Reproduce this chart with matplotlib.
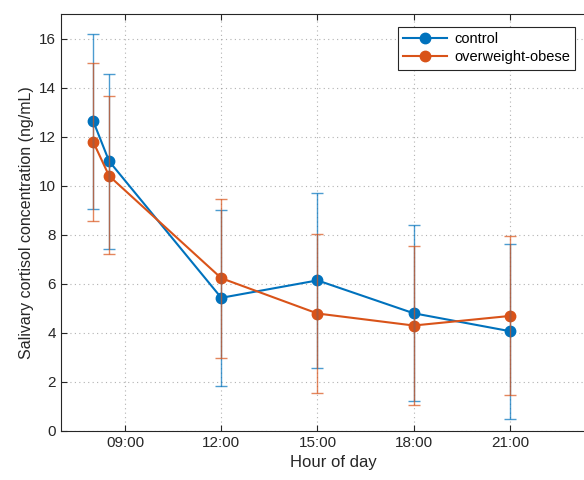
import matplotlib
matplotlib.use("Agg")
import matplotlib.pyplot as plt
import numpy as np

plt.rcParams['font.family'] = ['Liberation Sans', 'DejaVu Sans']

hours = [8.0, 8.5, 12, 15, 18, 21]
tick_hours = [9, 12, 15, 18, 21]
tick_labels = ["09:00", "12:00", "15:00", "18:00", "21:00"]

control_mean = [12.65, 11.0, 5.43, 6.14, 4.80, 4.07]
control_upper = [16.2, 14.55, 9.0, 9.70, 8.38, 7.63]
control_lower = [9.05, 7.42, 1.85, 2.56, 1.24, 0.49]

obese_mean = [11.8, 10.4, 6.23, 4.79, 4.30, 4.69]
obese_upper = [15.02, 13.65, 9.44, 8.03, 7.54, 7.93]
obese_lower = [8.55, 7.2, 2.99, 1.56, 1.06, 1.45]

c_blue = '#0072BD'
c_red = '#D95319'

fig = plt.figure(figsize=(5.84, 4.8), dpi=100)
ax = fig.add_axes([61/584, 49/480, (606-61)/584, 417/480])

for mean, up, lo, col, lab in [(control_mean, control_upper, control_lower, c_blue, 'control'),
                               (obese_mean, obese_upper, obese_lower, c_red, 'overweight-obese')]:
    m = np.array(mean)
    yerr = [m - np.array(lo), np.array(up) - m]
    ax.plot(hours, m, '-o', color=col, lw=1.5, ms=7.5, label=lab, zorder=3)
    ax.errorbar(hours, m, yerr=yerr, fmt='none', ecolor=col, elinewidth=1.0,
                capsize=4.5, capthick=1.0, alpha=0.7, zorder=4)

ax.set_xlim(7, 24)
ax.set_ylim(0, 17)
ax.set_xticks(tick_hours)
ax.set_xticklabels(tick_labels)
ax.set_yticks(np.arange(0, 17, 2))
ax.grid(True, linestyle=(0, (1, 3)), color='#666666', lw=0.8, alpha=0.5)
ax.tick_params(direction='in', top=True, right=True, labelsize=11, colors='#262626',
               length=4)
for s in ax.spines.values():
    s.set_color('#262626')
ax.set_xlabel('Hour of day', fontsize=12, color='#262626')
ax.set_ylabel('Salivary cortisol concentration (ng/mL)', fontsize=11.5, color='#262626')

leg = ax.legend(loc='upper left', bbox_to_anchor=((398-61)/545, 1-(27-14)/417),
                fontsize=10.5, fancybox=False, framealpha=1, edgecolor='#262626',
                borderaxespad=0, handlelength=3.0, borderpad=0.35, labelspacing=0.3,
                handletextpad=0.5)
leg.get_frame().set_linewidth(0.8)

fig.savefig('out.png', dpi=100)
